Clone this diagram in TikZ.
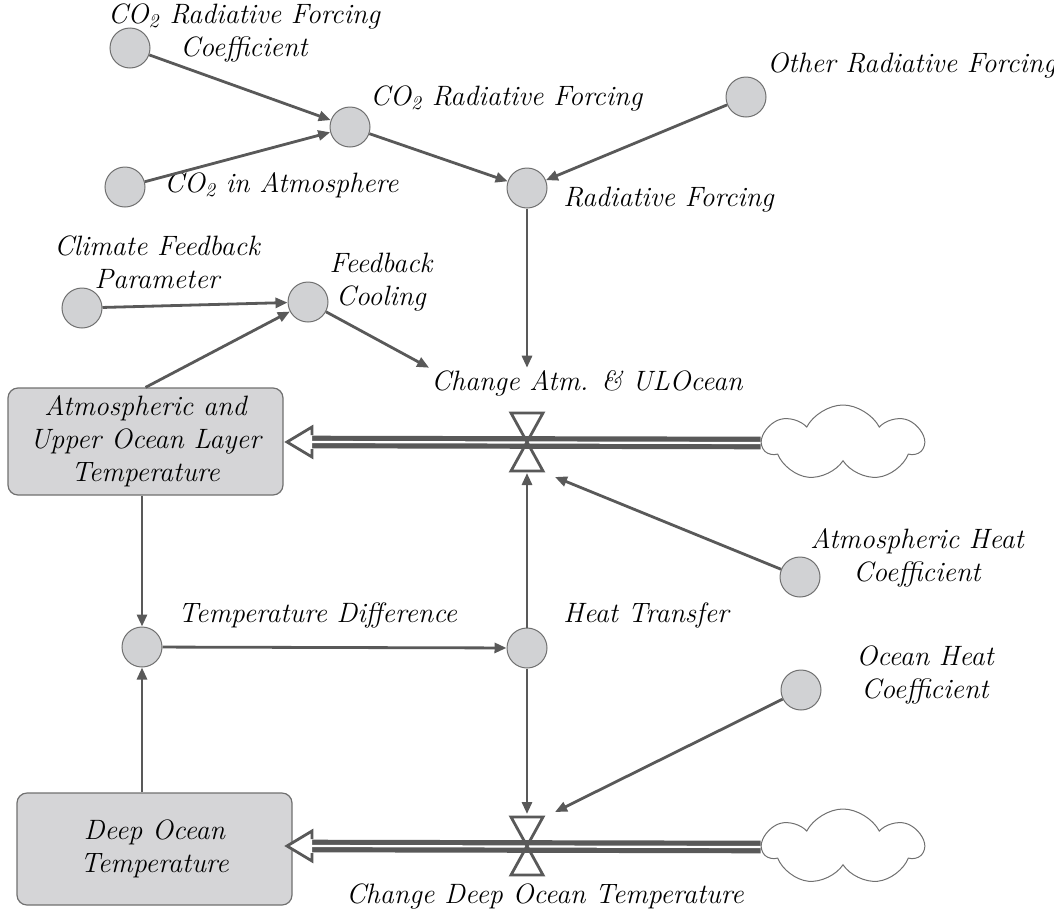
\documentclass[tikz,border=0pt]{standalone}
\usetikzlibrary{arrows.meta,shapes.symbols}
\definecolor{linegray}{HTML}{595959}
\definecolor{auxfill}{HTML}{D1D2D4}
\definecolor{stockfill}{HTML}{D5D5D7}
\definecolor{rimgray}{HTML}{707070}
\tikzset{
  aux/.style={circle,draw=rimgray,fill=auxfill,line width=0.5pt,minimum size=20pt,inner sep=0pt},
  lbl/.style={font=\fontsize{14}{16.5}\selectfont\itshape,align=center,inner sep=1pt},
  stock/.style={lbl,rectangle,rounded corners=5pt,draw=rimgray,fill=stockfill,line width=0.6pt,minimum width=137.5pt},
  link/.style={draw=linegray,line width=1.4pt,-{Triangle[length=6pt,width=5pt]}},
  pipe/.style={draw=linegray,double=white,double distance=1.1pt,line width=2.6pt},
  valve/.style={draw=linegray,line width=1.4pt},
  source/.style={cloud,cloud puffs=7,cloud puff arc=125,aspect=2.1,draw=rimgray,line width=0.5pt,minimum width=80pt,minimum height=38pt,inner sep=0pt}
}

\begin{document}
\begin{tikzpicture}[x=0.5pt,y=-0.5pt]
\useasboundingbox (0,0) rectangle (1054,916);
% auxiliaries, top part
\node[aux] (coef) at (130,48) {};
\node[lbl] (coeflab) at (244,33) {CO\textsubscript{2} Radiative Forcing\\Coefficient};
\node[aux] (co2rf) at (350,127) {};
\node[lbl,anchor=west] (co2rflab) at (368,98) {CO\textsubscript{2} Radiative Forcing};
\node[aux] (co2) at (125,187) {};
\node[lbl,anchor=west] (co2lab) at (162,185) {CO\textsubscript{2} in Atmosphere};
\node[aux] (rf) at (527,188) {};
\node[lbl,anchor=west] (rflab) at (561,200) {Radiative Forcing};
\node[aux] (orf) at (746,97) {};
\node[lbl,anchor=west] (orflab) at (765,65) {Other Radiative Forcing};
\node[aux] (cfp) at (82,308) {};
\node[lbl] (cfplab) at (157,262) {Climate Feedback\\Parameter};
\node[aux] (fc) at (308,302) {};
\node[lbl] (fclab) at (381,282) {Feedback\\Cooling};
% stocks
\node[stock,minimum height=53.5pt] (atm) at (145.5,441.5) {Atmospheric and\\Upper Ocean Layer\\Temperature};
\node[stock,minimum height=56pt] (deep) at (154.5,849) {Deep Ocean\\Temperature};
% flows
\node[lbl] (chg1) at (587,383) {Change Atm. \& ULOcean};
\node[lbl] (chg2) at (545,896) {Change Deep Ocean Temperature};
\node[source] (cloud1) at (843,443) {};
\node[source] (cloud2) at (843,847) {};
\coordinate (head1) at (312,442);
\coordinate (head2) at (312,846);
\coordinate (v1bot) at (527,473);
\coordinate (v1side) at (555,477);
\coordinate (v2top) at (527,814);
\coordinate (v2side) at (555,812);
% auxiliaries, lower part
\node[aux] (ahc) at (800,577) {};
\node[lbl] (ahclab) at (917,558) {Atmospheric Heat\\Coefficient};
\node[aux] (td) at (142,647) {};
\node[lbl,anchor=west] (tdlab) at (176,615) {Temperature Difference};
\node[aux] (ht) at (527,648) {};
\node[lbl,anchor=west] (htlab) at (561,615) {Heat Transfer};
\node[aux] (ohc) at (801,690) {};
\node[lbl] (ohclab) at (925,675) {Ocean Heat\\Coefficient};
% pipes
\draw[pipe] (cloud1.west) -- (head1);
\draw[pipe] (cloud2.west) -- (head2);
\fill[white] (312,427) -- (287,442) -- (312,457) -- cycle;
\draw[valve] (312,435) -- (312,427) -- (287,442) -- (312,457) -- (312,449);
\fill[white] (312,831) -- (287,846) -- (312,861) -- cycle;
\draw[valve] (312,839) -- (312,831) -- (287,846) -- (312,861) -- (312,853);
% valves
\draw[valve] (511,413) -- (543,413) -- (527,442) -- cycle;
\draw[valve] (511,471) -- (543,471) -- (527,442) -- cycle;
\draw[valve] (511,817) -- (543,817) -- (527,846) -- cycle;
\draw[valve] (511,875) -- (543,875) -- (527,846) -- cycle;
% links
\draw[link] (coef) -- (co2rf);
\draw[link] (co2) -- (co2rf);
\draw[link] (co2rf) -- (rf);
\draw[link] (orf) -- (rf);
\draw[link] (rf) -- (rf |- chg1.north);
\draw[link] (cfp) -- (fc);
\draw[link] (atm.north) -- (fc);
\draw[link] (fc) -- (chg1.north west);
\draw[link] (atm.south -| td) -- (td);
\draw[link] (deep.north -| td) -- (td);
\draw[link] (td) -- (ht);
\draw[link] (ht) -- (v1bot);
\draw[link] (ahc) -- (v1side);
\draw[link] (ht) -- (v2top);
\draw[link] (ohc) -- (v2side);
\end{tikzpicture}
\end{document}
